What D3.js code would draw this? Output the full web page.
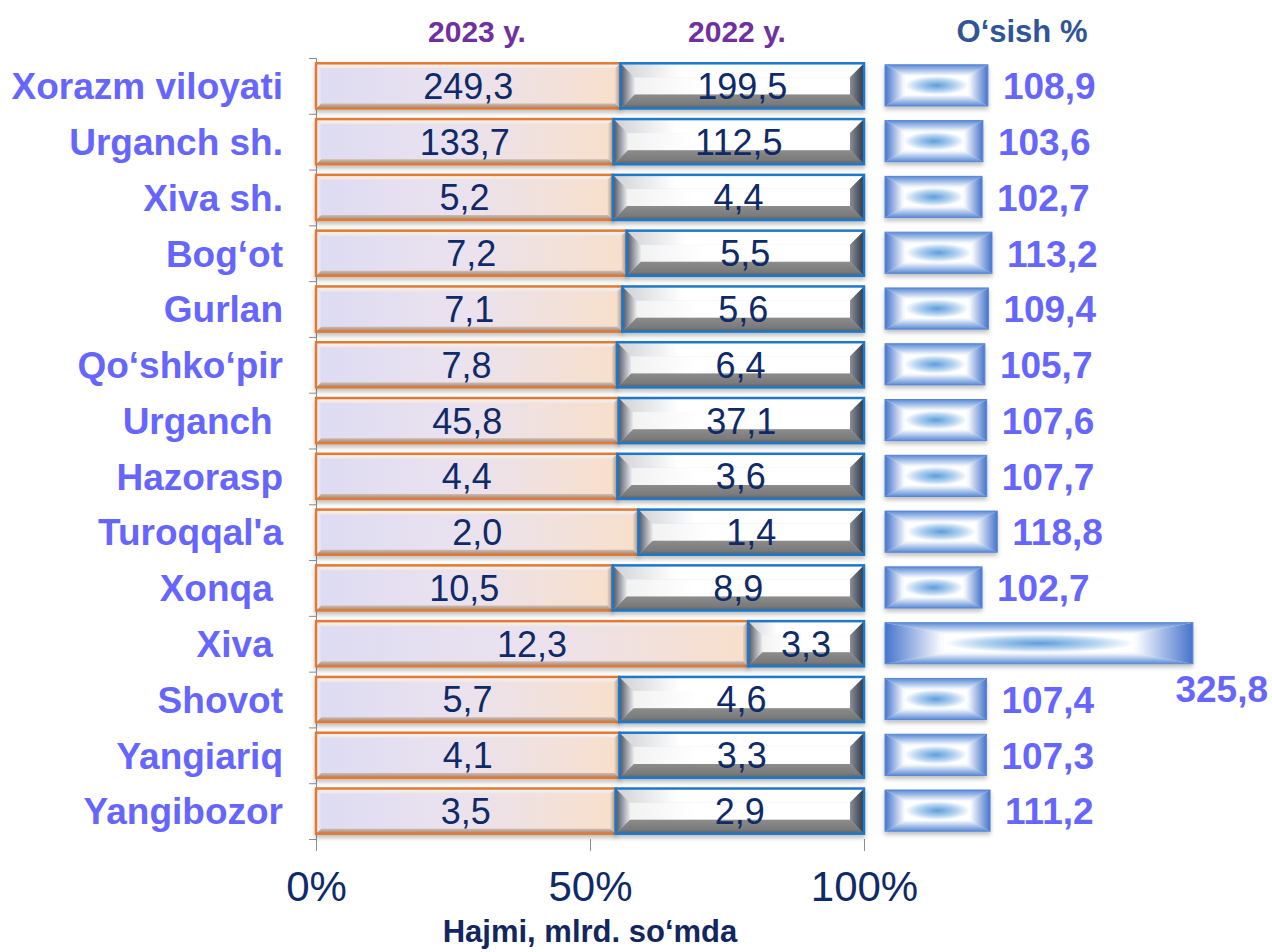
<!DOCTYPE html>
<html>
<head>
<meta charset="utf-8">
<script src="https://cdn.jsdelivr.net/npm/d3@7"></script>
<style>
  body { margin: 0; background: #fff; }
  text { font-family: "Liberation Sans", Arial, sans-serif; }
</style>
</head>
<body>
<div id="chart"></div>
<script>
// chart data
const regions = ["Xorazm viloyati", "Urganch sh.", "Xiva sh.", "Bog‘ot", "Gurlan", "Qo‘shko‘pir",
  "Urganch ", "Hazorasp", "Turoqqal'a", "Xonqa ", "Xiva ", "Shovot", "Yangiariq", "Yangibozor"];
const v2023 = [249.3, 133.7, 5.2, 7.2, 7.1, 7.8, 45.8, 4.4, 2.0, 10.5, 12.3, 5.7, 4.1, 3.5];
const v2022 = [199.5, 112.5, 4.4, 5.5, 5.6, 6.4, 37.1, 3.6, 1.4, 8.9, 3.3, 4.6, 3.3, 2.9];
const growth = [108.9, 103.6, 102.7, 113.2, 109.4, 105.7, 107.6, 107.7, 118.8, 102.7, 325.8, 107.4, 107.3, 111.2];
const seriesNames = ["2023 y.", "2022 y."];
const growthTitle = "O‘sish %";
const axisTitle = "Hajmi, mlrd. so‘mda";
const pctTicks = [0, 0.5, 1];

const svgWidth = 1272;
const svgHeight = 952;

const svg = d3.select("#chart")
  .append("svg")
  .attr("width", svgWidth)
  .attr("height", svgHeight);

const defs = svg.append("defs");

// helper for linear gradients
function linGrad(id, vertical, stops) {
  const g = defs.append("linearGradient").attr("id", id)
    .attr("x1", 0).attr("y1", 0)
    .attr("x2", vertical ? 0 : 1).attr("y2", vertical ? 1 : 0);
  stops.forEach(s => g.append("stop").attr("offset", s[0]).attr("stop-color", s[1]));
}

// 2023 segment (peach / lavender, thin bevel)
linGrad("f23", false, [[0, "#dedcf3"], [0.5, "#ebe2ee"], [1, "#f7dfcb"]]);
linGrad("t23", true, [[0, "#fbf4ee"], [1, "#efe6e6"]]);
linGrad("b23", true, [[0, "#d0bcb0"], [1, "#a08270"]]);
linGrad("l23", false, [[0, "#f4f0f4"], [1, "#e4e0f0"]]);
linGrad("r23", false, [[0, "#e8d2c0"], [1, "#c8ab98"]]);

// 2022 segment (white / gray, wide bevel)
linGrad("f22", false, [[0, "#f2f2f2"], [0.3, "#ffffff"], [1, "#ffffff"]]);
linGrad("t22", false, [[0, "#d0d2d6"], [0.25, "#ffffff"], [1, "#ffffff"]]);
linGrad("b22", true, [[0, "#8c8c8c"], [0.7, "#7a7a7a"], [1, "#5a5e66"]]);
linGrad("l22", false, [[0, "#4a5262"], [1, "#e8e8ea"]]);
linGrad("r22", false, [[0, "#8a8e96"], [1, "#2e3646"]]);

// growth bars (blue rectangular shade)
linGrad("tg", true, [[0, "#5a8ad6"], [1, "#ffffff"]]);
linGrad("bg", true, [[0, "#ffffff"], [1, "#5a8ad6"]]);
linGrad("lg", false, [[0, "#4674cc"], [1, "#ffffff"]]);
linGrad("rg", false, [[0, "#ffffff"], [1, "#4674cc"]]);
const rad = defs.append("radialGradient").attr("id", "cg")
  .attr("cx", 0.5).attr("cy", 0.5).attr("r", 0.5);
rad.append("stop").attr("offset", 0).attr("stop-color", "#5d9ddb");
rad.append("stop").attr("offset", 0.6).attr("stop-color", "#b4d3f0");
rad.append("stop").attr("offset", 1).attr("stop-color", "#ffffff");

const shadow = defs.append("filter").attr("id", "shadow")
  .attr("x", "-5%").attr("y", "-20%").attr("width", "110%").attr("height", "150%");
shadow.append("feDropShadow").attr("dx", 0).attr("dy", 3).attr("stdDeviation", 2)
  .attr("flood-color", "#000").attr("flood-opacity", 0.25);

// scales
const plotTop = 58, plotBottom = 839;
const y = d3.scaleBand().domain(regions).range([plotTop, plotBottom])
  .paddingInner(0.19).paddingOuter(0.095);
const x = d3.scaleLinear().domain([0, 1]).range([316, 864]);
const xg = d3.scaleLinear().domain([0, 350]).range([885, 885 + 0.945 * 350]);
const yTicks = d3.scaleLinear().domain([0, regions.length]).range([plotTop, plotBottom]);

const fmt = v => d3.format(".1f")(v).replace(".", ",");

const rows = regions.map((r, i) => {
  const total = v2023[i] + v2022[i];
  return { name: r, a: v2023[i], b: v2022[i], share: v2023[i] / total, g: growth[i] };
});

// draw a bevelled box from four trapezoids and an inner face
function bevelBox(g, x0, y0, x1, y1, bx, by, ids, stroke, sw) {
  const pts = a => a.map(p => p.join(",")).join(" ");
  const ix0 = x0 + bx, ix1 = x1 - bx, iy0 = y0 + by, iy1 = y1 - by;
  g.append("rect").attr("x", ix0).attr("y", iy0)
    .attr("width", Math.max(0, ix1 - ix0)).attr("height", Math.max(0, iy1 - iy0))
    .attr("fill", `url(#${ids[0]})`);
  g.append("polygon").attr("points", pts([[x0, y0], [x1, y0], [ix1, iy0], [ix0, iy0]])).attr("fill", `url(#${ids[1]})`);
  g.append("polygon").attr("points", pts([[x0, y1], [x1, y1], [ix1, iy1], [ix0, iy1]])).attr("fill", `url(#${ids[2]})`);
  g.append("polygon").attr("points", pts([[x0, y0], [ix0, iy0], [ix0, iy1], [x0, y1]])).attr("fill", `url(#${ids[3]})`);
  g.append("polygon").attr("points", pts([[x1, y0], [ix1, iy0], [ix1, iy1], [x1, y1]])).attr("fill", `url(#${ids[4]})`);
  g.append("rect").attr("x", x0).attr("y", y0).attr("width", x1 - x0).attr("height", y1 - y0)
    .attr("fill", "none").attr("stroke", stroke).attr("stroke-width", sw);
}

// axes
const leftAxis = d3.axisLeft(yTicks).tickValues(d3.range(regions.length + 1)).tickSize(7).tickFormat("");
const la = svg.append("g").attr("transform", `translate(${x(0)},0)`).call(leftAxis);
la.selectAll("path, line").attr("stroke", "#8c8c8c");

const bottomAxis = d3.axisBottom(x).tickValues(pctTicks).tickSize(12).tickPadding(20)
  .tickFormat(d3.format(".0%"));
const ba = svg.append("g").attr("transform", `translate(0,${plotBottom})`).call(bottomAxis);
ba.select(".domain").remove();
ba.selectAll("line").attr("stroke", "#8c8c8c");
ba.selectAll("text").attr("font-size", 42).attr("fill", "#0f2a68")
  .attr("font-family", "Liberation Sans, Arial, sans-serif");

// bars
const bh = y.bandwidth();
const rowG = svg.selectAll("g.row").data(rows).enter().append("g").attr("class", "row");

rowG.each(function(d) {
  const g = d3.select(this);
  const y0 = y(d.name), y1 = y0 + bh;
  const xm = x(d.share);

  const s1 = g.append("g").attr("filter", "url(#shadow)");
  bevelBox(s1, x(0), y0, xm, y1, 5, 5, ["f23", "t23", "b23", "l23", "r23"], "#e07a34", 2.5);
  const s2 = g.append("g").attr("filter", "url(#shadow)");
  const b2 = Math.min(14, (x(1) - xm) / 4);
  bevelBox(s2, xm, y0, x(1), y1, b2, 14, ["f22", "t22", "b22", "l22", "r22"], "#1f78c8", 2.5);

  g.append("text").attr("x", (x(0) + xm) / 2).attr("y", y0 + bh / 2).attr("dy", "0.36em")
    .attr("text-anchor", "middle").attr("font-size", 36).attr("fill", "#0f2a68").text(fmt(d.a));
  g.append("text").attr("x", (xm + x(1)) / 2).attr("y", y0 + bh / 2).attr("dy", "0.36em")
    .attr("text-anchor", "middle").attr("font-size", 36).attr("fill", "#0f2a68").text(fmt(d.b));

  // growth bar
  const gy0 = y0 + 1.5, gy1 = y1 - 2.5;
  const gx0 = xg(0), gx1 = xg(d.g);
  const s3 = g.append("g").attr("filter", "url(#shadow)");
  bevelBox(s3, gx0, gy0, gx1, gy1, (gx1 - gx0) * 0.19, (gy1 - gy0) * 0.27,
    ["cg", "tg", "bg", "lg", "rg"], "#5a86d4", 1);

  const label = g.append("text").attr("font-size", 37).attr("font-weight", "bold")
    .attr("fill", "#6666ff").text(fmt(d.g));
  if (gx1 + 110 > svgWidth) {
    label.attr("x", svgWidth - 4).attr("y", y1 + 22).attr("dy", "0.36em").attr("text-anchor", "end");
  } else {
    label.attr("x", gx1 + 15).attr("y", y0 + bh / 2).attr("dy", "0.36em");
  }

  // category label
  g.append("text").attr("x", 283).attr("y", y0 + bh / 2).attr("dy", "0.36em")
    .attr("text-anchor", "end").attr("font-size", 37).attr("font-weight", "bold")
    .attr("fill", "#6666ff").attr("xml:space", "preserve").style("white-space", "pre")
    .text(d.name);
});

// headers
svg.append("text").attr("x", 477).attr("y", 42).attr("text-anchor", "middle")
  .attr("font-size", 30).attr("font-weight", "bold").attr("fill", "#7030a0").text(seriesNames[0]);
svg.append("text").attr("x", 737).attr("y", 42).attr("text-anchor", "middle")
  .attr("font-size", 30).attr("font-weight", "bold").attr("fill", "#7030a0").text(seriesNames[1]);
svg.append("text").attr("x", 1022).attr("y", 42).attr("text-anchor", "middle")
  .attr("font-size", 31).attr("font-weight", "bold").attr("fill", "#2f5597").text(growthTitle);

// axis title
svg.append("text").attr("x", x(0.5)).attr("y", 942).attr("text-anchor", "middle")
  .attr("font-size", 31).attr("font-weight", "bold").attr("fill", "#13275e").text(axisTitle);
</script>
</body>
</html>
